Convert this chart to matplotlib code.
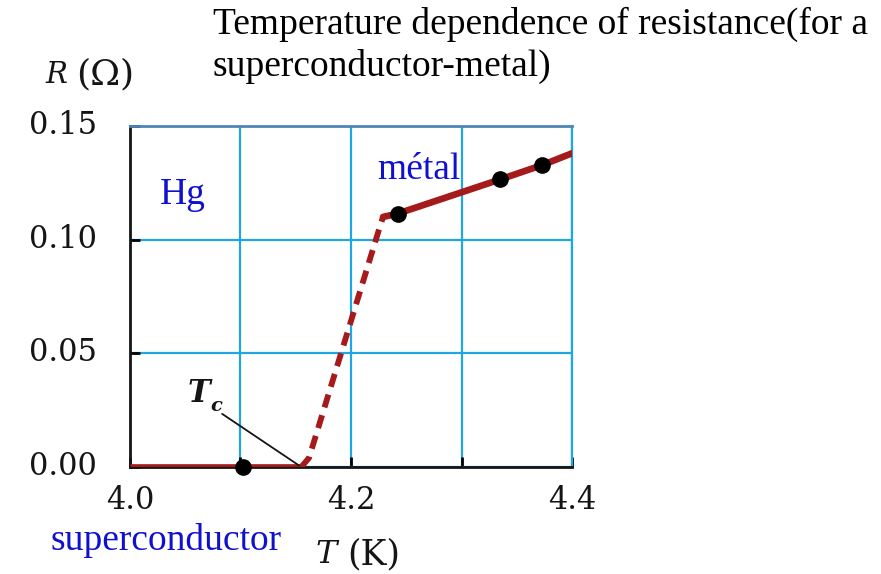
import matplotlib
matplotlib.use('Agg')
import matplotlib.pyplot as plt
import matplotlib.transforms as mtransforms

plt.rcParams['font.family'] = ['Liberation Serif', 'DejaVu Serif']
plt.rcParams['mathtext.fontset'] = 'dejavuserif'

# superconducting branch (R = 0 below Tc)
t_super = [4.0, 4.155]
r_super = [0.0, 0.0]
# transition (dashed)
t_trans = [4.155, 4.162, 4.226, 4.229]
r_trans = [0.0, 0.004, 0.1055, 0.110]
# normal metal branch
t_metal = [4.229, 4.2425, 4.335, 4.373, 4.4]
r_metal = [0.110, 0.1115, 0.1265, 0.1328, 0.138]
# measured points
t_pts = [4.102, 4.2425, 4.335, 4.373]
r_pts = [0.0, 0.1115, 0.1265, 0.1328]

x_ticks = [4.0, 4.1, 4.2, 4.3, 4.4]
x_labels = ['4.0', '', '4.2', '', '4.4']
y_ticks = [0.0, 0.05, 0.10, 0.15]
y_labels = ['0.00', '0.05', '0.10', '0.15']

red = '#a51a1a'
blue_grid = '#22a6e2'
blue_txt = '#1010d0'
ink = '#151515'

fig = plt.figure(figsize=(8.81, 5.74), dpi=100)
ax = fig.add_axes([130 / 881, 1 - 467 / 574, 442 / 881, 341 / 574])

ax.plot(t_super, r_super, color=red, lw=4.8, solid_capstyle='butt', zorder=3)
ax.plot(t_trans, r_trans, color=red, lw=4.2, dashes=(2.3, 1.4), zorder=3)
ax.plot(t_metal, r_metal, color=red, lw=4.8, solid_capstyle='round', zorder=3)
ax.plot(t_pts, r_pts, 'o', color='black', ms=11, zorder=4, clip_on=False)

ax.set_xlim(4.0, 4.4)
ax.set_ylim(0.0, 0.15)
ax.set_xticks(x_ticks)
ax.set_xticklabels(x_labels)
ax.set_yticks(y_ticks)
ax.set_yticklabels(y_labels)
ax.grid(True, color=blue_grid, lw=1.6)
ax.tick_params(direction='in', length=7, width=2, color='black', labelsize=22)
ax.tick_params(axis='x', pad=13)
ax.tick_params(axis='y', pad=24)
lift = mtransforms.ScaledTranslation(0, 4 / 100, fig.dpi_scale_trans)
for lab in ax.get_yticklabels():
    lab.set_transform(lab.get_transform() + lift)
for lab in ax.get_xticklabels() + ax.get_yticklabels():
    lab.set_family('DejaVu Serif')
    lab.set_color(ink)

ax.spines['left'].set_linewidth(2)
ax.spines['bottom'].set_linewidth(2)
ax.spines['left'].set_color(ink)
ax.spines['bottom'].set_color(ink)
ax.spines['top'].set_color('#4f86b5')
ax.spines['top'].set_linewidth(2)
ax.spines['right'].set_color(blue_grid)
ax.spines['right'].set_linewidth(1.6)

# labels inside the plot
ax.text(4.027, 0.1155, 'Hg', color=blue_txt, fontsize=27)
ax.text(4.224, 0.1265, 'métal', color=blue_txt, fontsize=27)
ax.annotate('T', xy=(4.155, 0.0), xytext=(4.0525, 0.0285),
            fontsize=22, color=ink, family='DejaVu Serif', style='italic',
            weight='bold',
            arrowprops=dict(arrowstyle='-', color=ink, lw=1.3,
                            shrinkA=0, shrinkB=2,
                            relpos=(1.5, -0.15)))
ax.text(4.0725, 0.0245, 'c', fontsize=14, color=ink, family='DejaVu Serif',
        style='italic', weight='bold')

# text outside the axes
fig.text(45 / 881, 1 - 83 / 574, 'R', fontsize=21, color=ink,
         family='DejaVu Serif', style='italic')
fig.text(76 / 881, 1 - 84 / 574, '(Ω)', fontsize=26, color=ink,
         family='DejaVu Serif')
fig.text(315 / 881, 1 - 563 / 574, 'T', fontsize=23, color=ink,
         family='DejaVu Serif', style='italic')
fig.text(347 / 881, 1 - 564 / 574, '(K)', fontsize=25, color=ink,
         family='DejaVu Serif')
fig.text(50 / 881, 1 - 550 / 574, 'superconductor', color=blue_txt, fontsize=27)
fig.text(213 / 881, 1 - 34 / 574, 'Temperature dependence of resistance(for a',
         fontsize=27, color='black', va='baseline')
fig.text(213 / 881, 1 - 76 / 574, 'superconductor-metal)',
         fontsize=27, color='black', va='baseline')

fig.savefig('out.png', dpi=100)
